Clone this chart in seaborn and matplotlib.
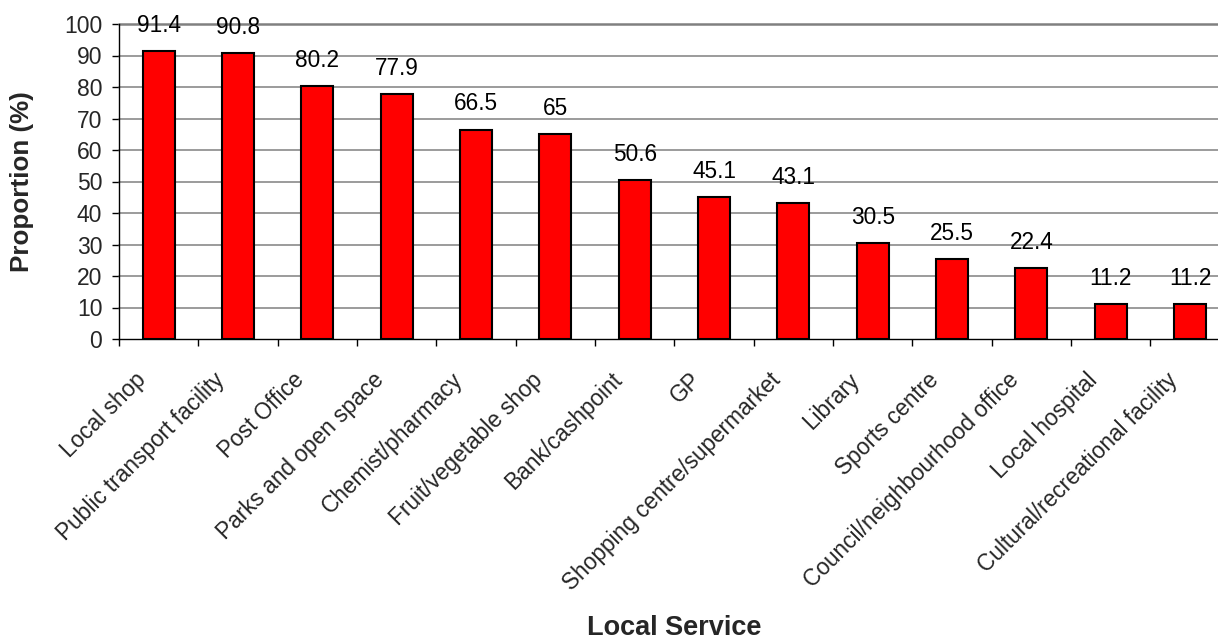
import matplotlib
matplotlib.use("Agg")
import matplotlib.pyplot as plt
import matplotlib.transforms as mtransforms
import seaborn as sns
import numpy as np

# Local services and share of respondents naming each (%)
services = [
    "Local shop", "Public transport facility", "Post Office",
    "Parks and open space", "Chemist/pharmacy", "Fruit/vegetable shop",
    "Bank/cashpoint", "GP", "Shopping centre/supermarket", "Library",
    "Sports centre", "Council/neighbourhood office", "Local hospital",
    "Cultural/recreational facility",
]
proportions = [91.4, 90.8, 80.2, 77.9, 66.5, 65, 50.6, 45.1, 43.1,
               30.5, 25.5, 22.4, 11.2, 11.2]
value_labels = ["91.4", "90.8", "80.2", "77.9", "66.5", "65", "50.6",
                "45.1", "43.1", "30.5", "25.5", "22.4", "11.2", "11.2"]
y_ticks = [0, 10, 20, 30, 40, 50, 60, 70, 80, 90, 100]

sns.set_style("white")
plt.rcParams["font.family"] = ["Liberation Sans", "DejaVu Sans"]

W, H, DPI = 1218, 639, 100
fig = plt.figure(figsize=(W / DPI, H / DPI), dpi=DPI)
left, right, bottom, top = 119 / W, 1229.7 / W, 1 - 339 / H, 1 - 24 / H
ax = fig.add_axes([left, bottom, right - left, top - bottom])

sns.barplot(x=services, y=proportions, color="#ff0000", saturation=1,
            edgecolor="black", linewidth=1.5, width=0.4, ax=ax, zorder=3)

ax.set_xlim(-0.5, len(services) - 0.5)
ax.set_ylim(0, 100)
ax.set_yticks(y_ticks)
ax.set_yticklabels([str(v) for v in y_ticks])

# horizontal gridlines
for v in y_ticks[1:]:
    ax.axhline(v, color="#808080", lw=1.1 if v < 100 else 1.8, zorder=1,
               clip_on=False)

for s in ["top", "right"]:
    ax.spines[s].set_visible(False)
for s in ["left", "bottom"]:
    ax.spines[s].set_color("black")
    ax.spines[s].set_linewidth(1.0)
    ax.spines[s].set_zorder(4)

ax.tick_params(axis="y", direction="out", length=5, width=1, color="black",
               labelsize=16.5, pad=7, left=True)

# category boundaries carry the tick marks; labels sit at bar centres
ax.set_xticks(np.arange(-0.5, len(services), 1.0), minor=True)
ax.tick_params(axis="x", which="minor", direction="out", length=5, width=1,
               color="black", bottom=True)
ax.tick_params(axis="x", which="major", length=0, pad=27, labelsize=16.3)
offset = mtransforms.ScaledTranslation(-16.5 / DPI, 0, fig.dpi_scale_trans)
for lab in ax.get_xticklabels():
    lab.set_rotation(45)
    lab.set_ha("right")
    lab.set_va("center")
    lab.set_rotation_mode("anchor")
    lab.set_transform(lab.get_transform() + offset)

for i, (v, t) in enumerate(zip(proportions, value_labels)):
    ax.annotate(t, xy=(i, v), xytext=(0, 13.7), textcoords="offset points",
                ha="center", va="baseline", fontsize=16.3, color="black",
                annotation_clip=False)

ax.set_ylabel("Proportion (%)", fontsize=18.7, fontweight="bold")
ax.set_xlabel("Local Service", fontsize=19.5, fontweight="bold")
ax.yaxis.set_label_coords(-0.0873, 0.5)
ax.xaxis.set_label_coords(0.5, -0.917)
ax.xaxis.label.set_va("center")
ax.yaxis.label.set_va("center")

fig.savefig("out.png", dpi=DPI)
